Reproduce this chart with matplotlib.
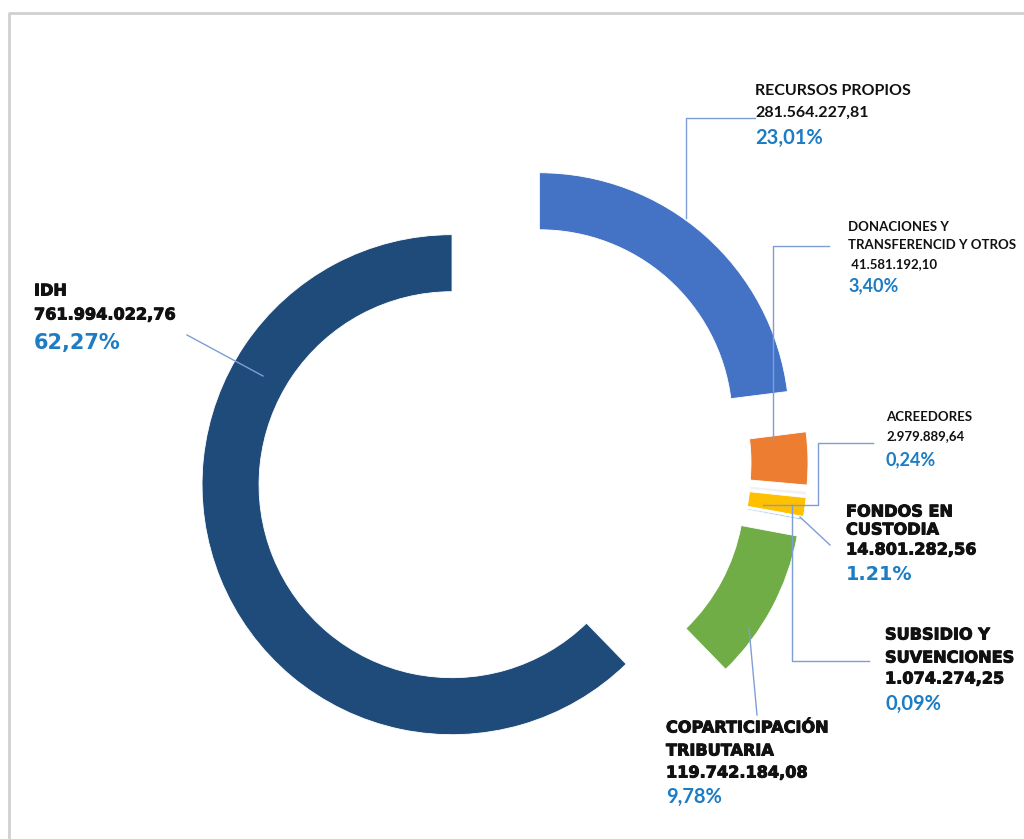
import matplotlib.pyplot as plt
import matplotlib.patheffects as pe

# datos
categorias = ['RECURSOS PROPIOS', 'DONACIONES Y\nTRANSFERENCID Y OTROS', 'ACREEDORES',
              'FONDOS EN\nCUSTODIA', 'SUBSIDIO Y\nSUVENCIONES',
              'COPARTICIPACIÓN\nTRIBUTARIA', 'IDH']
montos = [281564227.81, 41581192.10, 2979889.64, 14801282.56,
          1074274.25, 119742184.08, 761994022.76]
montos_txt = ['281.564.227,81', ' 41.581.192,10', '2.979.889,64', '14.801.282,56',
              '1.074.274,25', '119.742.184,08', '761.994.022,76']
porcentajes = ['23,01%', '3,40%', '0,24%', '1.21%', '0,09%', '9,78%', '62,27%']

colores = ['#4472C4', '#ED7D31', '#F2F2F2', '#FFC000', '#5B9BD5', '#70AD47', '#1F4B7A']

W, H = 1024, 839
fig = plt.figure(figsize=(W / 100, H / 100), dpi=100)
ax = fig.add_axes([0, 0, 1, 1])

def Y(y):
    return H - y

R = 250
ax.pie(montos, colors=colores, startangle=90, counterclock=False,
       radius=R, center=(503, Y(464)), explode=[55] * len(montos),
       wedgeprops=dict(width=57, edgecolor='white', linewidth=0.6))
ax.set_xlim(0, W)
ax.set_ylim(0, H)
ax.set_aspect('equal')
ax.axis('off')

# marco
ax.plot([9, 9, W], [0, Y(13), Y(13)], color='#D0D0D0', lw=2, clip_on=False)

# lineas guia
lineas = [
    [(755, 118), (686, 118), (686, 218)],
    [(829, 246), (773, 246), (773, 440)],
    [(873, 443), (818, 443), (818, 505), (763, 505)],
    [(830, 545), (800, 517)],
    [(869, 661), (792, 661), (792, 505)],
    [(757, 715), (749, 628)],
    [(187, 335), (263, 376)],
]
for pts in lineas:
    ax.plot([p[0] for p in pts], [Y(p[1]) for p in pts], color='#7F9ED6', lw=1)

# etiquetas: x, posiciones y de cada linea, estilo del nombre, estilo del %
pos = [
    (755, [91, 113, 138], 'ligero', ('Lato', 14.5)),
    (848, [227, 245, 264, 286], 'chico', ('Lato', 13)),
    (886, [417, 436, 460], 'chico', ('Lato', 13)),
    (846, [512, 530, 550, 574], 'pesado', ('DejaVu Sans', 13.8)),
    (885, [635, 658, 679, 704], 'pesado', ('Lato', 14.5)),
    (666, [728, 751, 773, 797], 'pesado', ('Lato', 14.5)),
    (34, [291, 315, 343], 'pesado', ('DejaVu Sans', 15)),
]
estilos = {
    'ligero': dict(fam='Lato', size=11.5, fx=[]),
    'chico': dict(fam='Lato', size=9.5, fx=[]),
    'pesado': dict(fam='DejaVu Sans', size=11.6,
                   fx=[pe.withStroke(linewidth=0.7, foreground='#111111')]),
}
for i, (x, ys, est, (pfam, psize)) in enumerate(pos):
    e = estilos[est]
    lineas_txt = categorias[i].split('\n') + [montos_txt[i]]
    for t, y in zip(lineas_txt, ys[:-1]):
        fig.text(x / W, 1 - y / H, t, fontsize=e['size'], fontweight='bold',
                 family=e['fam'], color='#111111', va='center', ha='left',
                 path_effects=e['fx'])
    fig.text(x / W, 1 - ys[-1] / H, porcentajes[i], fontsize=psize,
             fontweight='bold', family=pfam, color='#1C7CC4', va='center', ha='left')

fig.savefig('out.png', dpi=100)
